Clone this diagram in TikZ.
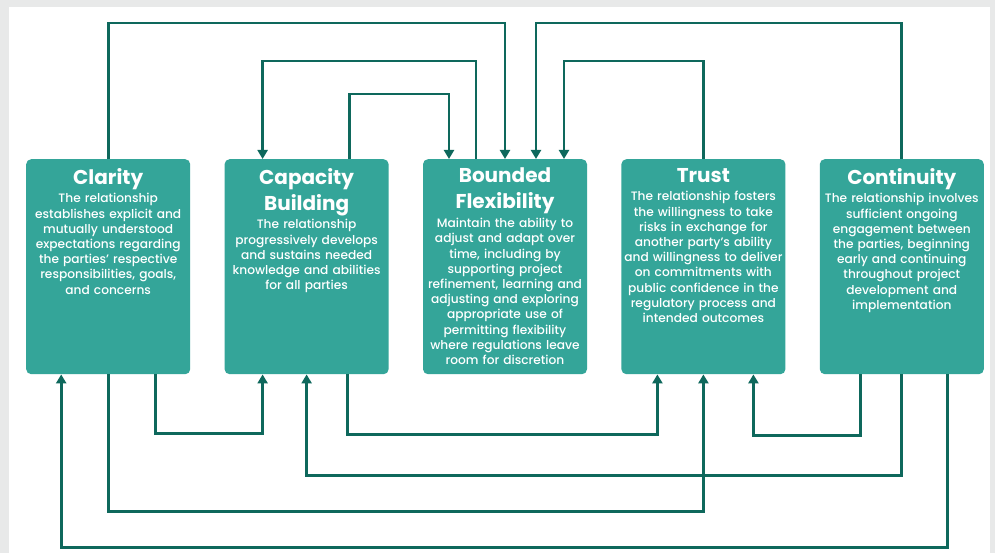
\documentclass[tikz,border=0pt]{standalone}
\usepackage{fontspec}
\setmainfont{Poppins}[UprightFont=* Medium, BoldFont=* Bold]
\usepackage{tikz}
\usetikzlibrary{arrows.meta}
\usetikzlibrary{positioning}
\definecolor{boxgreen}{RGB}{52,165,153}
\definecolor{linkgreen}{RGB}{14,104,92}
\definecolor{backgray}{RGB}{232,233,233}
\newcommand{\ttl}{\fontsize{20}{26}\selectfont\bfseries}
\tikzset{box/.style = {fill=boxgreen, rounded corners=5pt, minimum width=164pt, minimum height=215pt, inner sep=0}}
\tikzset{txt/.style = {text=white, text width=172pt, align=center, inner sep=0, font=\fontsize{12.2}{15.2}\selectfont}}
\tikzset{link/.style = {draw=linkgreen, line width=2.8pt, -{Triangle[length=9pt, width=10pt]}}}

\begin{document}
\begin{tikzpicture}[x=1pt, y=-1pt]
      \useasboundingbox (0, 0) rectangle (995, 553);
      \fill [backgray] (0, 0) rectangle (995, 553);
      \fill [white] (9, 7) rectangle (990, 553);

      \node [box, anchor=north west] (clarity) at (26, 159) {};
      \node [box, right=34pt of clarity] (capacity) {};
      \node [box, right=34pt of capacity] (bounded) {};
      \node [box, right=34pt of bounded] (trust) {};
      \node [box, right=34pt of trust] (continuity) {};

      \node [txt, below=9pt of clarity.north] (clarity-txt) {{\ttl Clarity\par}\vspace{3.5pt}The relationship\\ establishes explicit and\\ mutually understood\\ expectations regarding\\ the parties’ respective\\ responsibilities, goals,\\ and concerns};
      \node [txt, below=9pt of capacity.north] (capacity-txt) {{\ttl Capacity\\ Building\par}\vspace{3.5pt}The relationship\\ progressively develops\\ and sustains needed\\ knowledge and abilities\\ for all parties};
      \node [txt, below=9pt of bounded.north] (bounded-txt) {{\ttl Bounded\\ Flexibility\par}\vspace{3.5pt}Maintain the ability to\\ adjust and adapt over\\ time, including by\\ supporting project\\ refinement, learning and\\ adjusting and exploring\\ appropriate use of\\ permitting flexibility\\ where regulations leave\\ room for discretion};
      \node [txt, below=9pt of trust.north] (trust-txt) {{\ttl Trust\par}\vspace{3.5pt}The relationship fosters\\ the willingness to take\\ risks in exchange for\\ another party’s ability\\ and willingness to deliver\\ on commitments with\\ public confidence in the\\ regulatory process and\\ intended outcomes};
      \node [txt, below=9pt of continuity.north] (continuity-txt) {{\ttl Continuity\par}\vspace{3.5pt}The relationship involves\\ sufficient ongoing\\ engagement between\\ the parties, beginning\\ early and continuing\\ throughout project\\ development and\\ implementation};

      % links above the boxes
      \draw [link] (clarity.north) -- ++(0, -136) -| (bounded.north);
      \draw [link] (continuity.north) -- ++(0, -136) -| ([xshift=31pt]bounded.north);
      \draw [link] ([xshift=-29pt]bounded.north) -- ++(0, -98) -| ([xshift=-44pt]capacity.north);
      \draw [link] (trust.north) -- ++(0, -98) -| ([xshift=59pt]bounded.north);
      \draw [link] ([xshift=43pt]capacity.north) -- ++(0, -65) -| ([xshift=-56pt]bounded.north);

      % links below the boxes
      \draw [link] ([xshift=47pt]clarity.south) -- ++(0, 59) -| ([xshift=-44pt]capacity.south);
      \draw [link] ([xshift=41pt]capacity.south) -- ++(0, 60) -| ([xshift=-46pt]trust.south);
      \draw [link] ([xshift=-41pt]continuity.south) -- ++(0, 61) -| ([xshift=50pt]trust.south);
      \draw [link] (continuity.south) -- ++(0, 101) -| (capacity.south);
      \draw [link] (clarity.south) -- ++(0, 137) -| (trust.south);
      \draw [link] ([xshift=46pt]continuity.south) -- ++(0, 173) -| ([xshift=-47pt]clarity.south);
    \end{tikzpicture}
\end{document}
